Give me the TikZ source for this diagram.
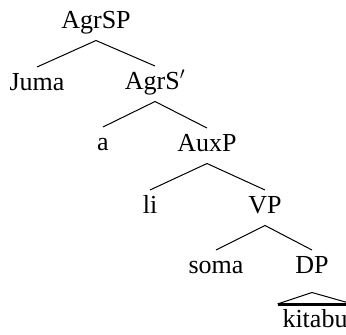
\documentclass[tikz,border=0pt]{standalone}
\usepackage{fontspec}
\setmainfont{Liberation Serif}
\newfontfamily\treefont{Liberation Serif}
\begin{document}
\begin{tikzpicture}[x=1pt,y=-1pt,line width=1pt]
        \useasboundingbox (0,0) rectangle (346,335);
        \begin{scope}[every node/.style={anchor=base,inner sep=4.5pt,text height=18pt,text depth=7.5pt,font=\treefont\fontsize{26}{30}\selectfont}]
            \node (AgrSP) at (96,28) {AgrSP};
            \node (Juma) at (37,90) {Juma};
            \node (AgrSbar) at (155,89) {AgrS$'$};
            \node (a) at (103,150) {a};
            \node (AuxP) at (207,151) {AuxP};
            \node (li) at (150,213) {li};
            \node (VP) at (265,213) {VP};
            \node (soma) at (216,273) {soma};
            \node (DP) at (312,273) {DP};
            \node (kitabu) at (315,327) {kitabu};
        \end{scope}
        \draw (AgrSP.south) -- (Juma.north);
        \draw (AgrSP.south) -- (AgrSbar.north);
        \draw (AgrSbar.south) -- (a.north);
        \draw (AgrSbar.south) -- (AuxP.north);
        \draw (AuxP.south) -- (li.north);
        \draw (AuxP.south) -- (VP.north);
        \draw (VP.south) -- (soma.north);
        \draw (VP.south) -- (DP.north);
        \draw ([yshift=-7pt]DP.south) -- (kitabu.north west);
        \draw ([yshift=-7pt]DP.south) -- (kitabu.north east);
        \draw[line width=3pt] (kitabu.north west) -- (kitabu.north east);
    \end{tikzpicture}
\end{document}
